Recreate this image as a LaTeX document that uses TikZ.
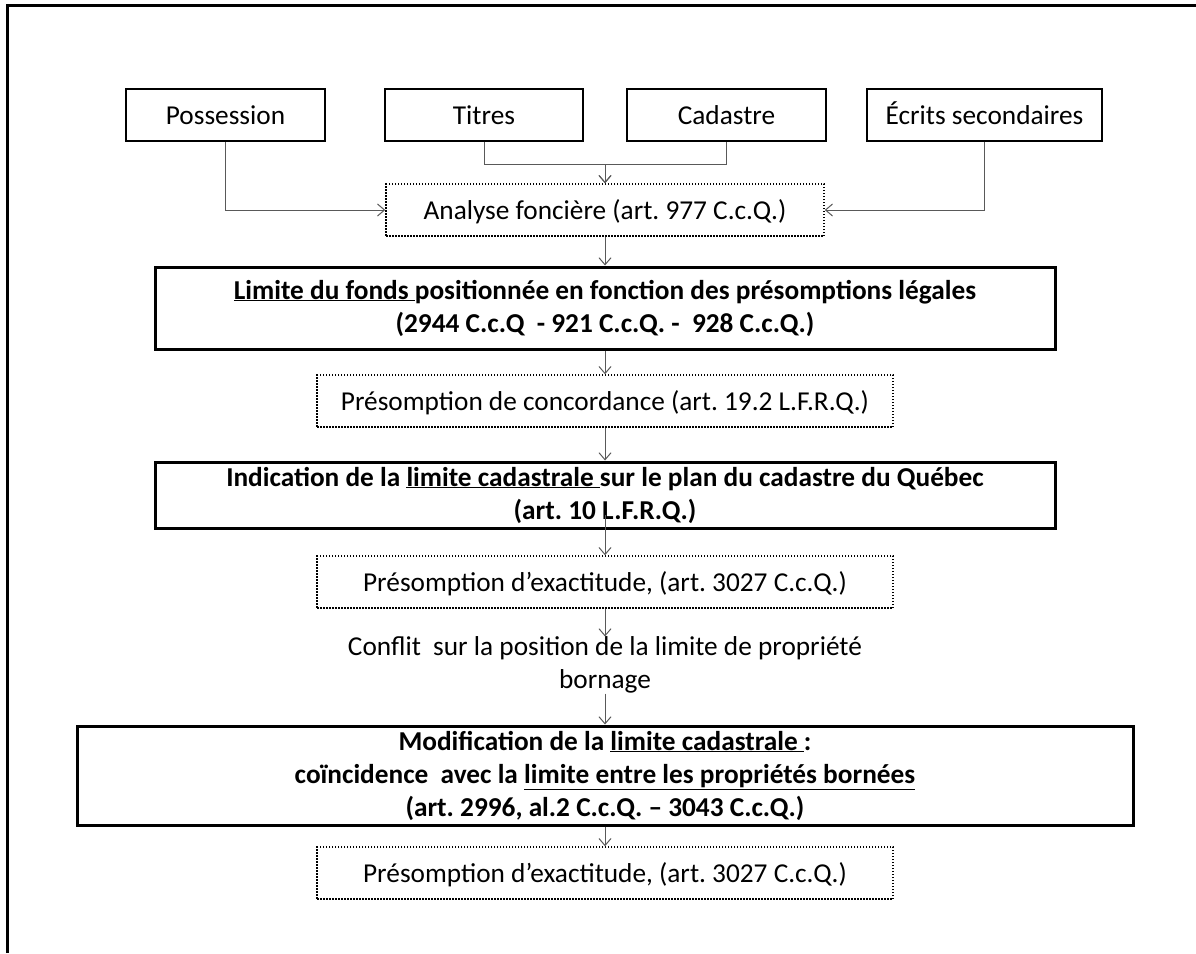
\documentclass[tikz,border=0pt]{standalone}
\usepackage{fontspec}
\setmainfont{Carlito}
\frenchspacing
\usetikzlibrary{arrows.meta}
\begin{document}
\begin{tikzpicture}[x=1pt,y=-1pt,
  txt/.style={font=\fontsize{27.3}{33}\selectfont},
  onerow/.style={text height=19pt, text depth=0pt},
  srcbox/.style={txt, onerow, draw=black, line width=2pt, minimum height=52pt, inner sep=0pt},
  dotbox/.style={txt, onerow, draw=black, line width=1.5pt, dash pattern=on 1.5pt off 1.5pt,
                 minimum height=52pt, minimum width=576pt, inner sep=0pt},
  mainbox/.style={draw=black, line width=3pt, inner sep=0pt, align=center,
                  font=\bfseries\fontsize{27.3}{33}\selectfont},
  plaintext/.style={txt, align=center, inner sep=0pt},
  link/.style={draw=black!65, line width=1pt},
  conn/.style={link, -{Straight Barb[length=7pt,width=12pt,line width=1pt]}}]
\useasboundingbox (0,0) rectangle (1196,953);
\fill[white] (0,0) rectangle (1196,953);
% outer frame (left and top sides)
\draw[line width=3pt] (7.5,953) -- (7.5,5) -- (1196,5);

% sources
\node[srcbox, minimum width=199pt] (pos) at (225.5,115) {Possession};
\node[srcbox, minimum width=198pt] (tit) at (484,115) {Titres};
\node[srcbox, minimum width=199pt] (cad) at (726.5,115) {Cadastre};
\node[srcbox, minimum width=235pt] (ecr) at (984.5,115) {Écrits secondaires};

% analysis
\node[dotbox, minimum width=438pt] (ana) at (605,210) {Analyse foncière (art. 977 C.c.Q.)};

% main chain
\node[mainbox, minimum width=900pt, minimum height=82pt] (fonds) at (605,308)
  {\underline{Limite du fonds\ }positionnée en fonction des présomptions légales\\
   (2944 C.c.Q\ \ - 921 C.c.Q. -\ \ 928 C.c.Q.)};
\node[dotbox] (conc) at (605,401) {Présomption de concordance (art. 19.2 L.F.R.Q.)};
\node[mainbox, minimum width=900pt, minimum height=66pt] (ind) at (605,495)
  {Indication de la \underline{limite cadastrale\ }sur le plan du cadastre du Québec\\
   (art. 10 L.F.R.Q.)};
\node[dotbox] (exa) at (605,582) {Présomption d’exactitude, (art. 3027 C.c.Q.)};
\node[plaintext] (conf) at (605,665)
  {Conflit\ \ sur la position de la limite de propriété\\bornage};
\node[mainbox, minimum width=1056pt, minimum height=99pt] (mod) at (605,775.5)
  {Modification de la \underline{limite cadastrale\ }:\\
   coïncidence\ \ avec la \underline{limite entre les propriétés bornées}\\
   (art. 2996, al.2 C.c.Q. – 3043 C.c.Q.)};
\node[dotbox] (fin) at (605,873) {Présomption d’exactitude, (art. 3027 C.c.Q.)};

\coordinate (indIn) at (605,515);

% connectors
\draw[conn] (pos.south) |- (ana.west);
\draw[conn] (ecr.south) |- (ana.east);
\draw[conn] (tit.south) -- ++(0,22) -| (ana.north);
\draw[conn] (cad.south) -- ++(0,22) -| (ana.north);
\draw[conn] (ana.south) -- (fonds.north);
\draw[conn] (fonds.south) -- (conc.north);
\draw[conn] (conc.south) -- (ind.north);
\draw[conn] (indIn) -- (exa.north);
\draw[conn] (exa.south) -- (conf.north);
\draw[conn] (conf.south) -- (mod.north);
\draw[conn] (mod.south) -- (fin.north);
\end{tikzpicture}
\end{document}
